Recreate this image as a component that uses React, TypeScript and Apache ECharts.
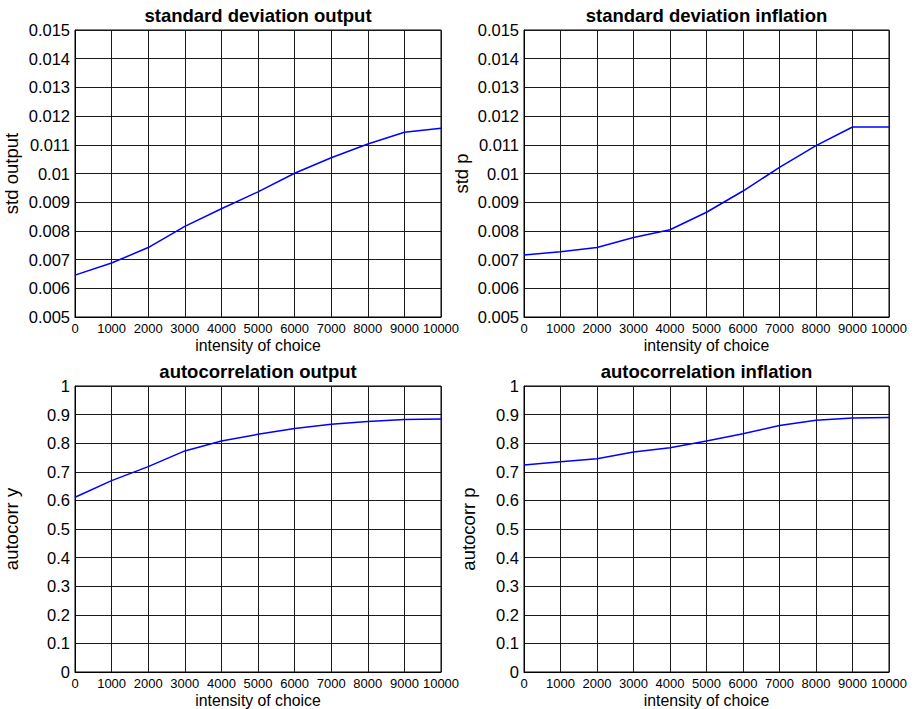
import React, { useEffect, useRef } from "react";
import * as echarts from "echarts";

// Intensity of choice (x values shared by all four panels)
const intensity = [0, 1000, 2000, 3000, 4000, 5000, 6000, 7000, 8000, 9000, 10000];

// Standard deviation of output
const stdOutput = [0.00646, 0.00688, 0.00742, 0.00816, 0.00877, 0.00936, 0.01001, 0.01055, 0.01103, 0.01144, 0.01158];
// Standard deviation of inflation
const stdInflation = [0.00716, 0.00727, 0.00742, 0.00777, 0.00804, 0.00865, 0.00939, 0.01021, 0.01097, 0.01162, 0.01162];
// First-order autocorrelation of output
const acOutput = [0.611, 0.669, 0.718, 0.773, 0.808, 0.831, 0.851, 0.866, 0.876, 0.883, 0.885];
// First-order autocorrelation of inflation
const acInflation = [0.724, 0.735, 0.746, 0.769, 0.784, 0.808, 0.833, 0.862, 0.880, 0.888, 0.890];

const titles = [
  "standard deviation output",
  "standard deviation inflation",
  "autocorrelation output",
  "autocorrelation inflation",
];
const yNames = ["std output", "std p", "autocorr y", "autocorr p"];
const xName = "intensity of choice";

const FONT = "'Liberation Sans', Arial, Helvetica, sans-serif";

export default function App() {
  const ref = useRef<HTMLDivElement>(null);

  useEffect(() => {
    if (!ref.current) return;
    const chart = echarts.init(ref.current, null, { renderer: "svg" });

    const grids = [
      { left: 75, top: 30, width: 366, height: 287 },
      { left: 524, top: 30, width: 365, height: 287 },
      { left: 75, top: 386, width: 366, height: 288 },
      { left: 524, top: 386, width: 365, height: 288 },
    ];
    const yRanges = [
      { min: 0.005, max: 0.015, interval: 0.001 },
      { min: 0.005, max: 0.015, interval: 0.001 },
      { min: 0, max: 1, interval: 0.1 },
      { min: 0, max: 1, interval: 0.1 },
    ];
    const yNameGaps = [54, 53, 54, 46];
    const dataSets = [stdOutput, stdInflation, acOutput, acInflation];

    const lineStyle = { color: "#1a1a1a", width: 1 };

    const option: any = {
      animation: false,
      backgroundColor: "#ffffff",
      textStyle: { fontFamily: FONT },
      title: grids.map((g, i) => ({
        text: titles[i],
        left: g.left + g.width / 2,
        top: g.top - 24,
        textAlign: "center",
        padding: 0,
        textStyle: {
          fontFamily: FONT,
          fontSize: 18.5,
          fontWeight: "bold",
          color: "#000",
        },
      })),
      grid: grids.map((g) => ({
        ...g,
        show: true,
        borderColor: "#000",
        borderWidth: 1,
        backgroundColor: "#fff",
        containLabel: false,
      })),
      xAxis: grids.map((_, i) => ({
        type: "value",
        gridIndex: i,
        min: 0,
        max: 10000,
        interval: 1000,
        name: xName,
        nameLocation: "middle",
        nameGap: 20,
        nameTextStyle: { fontFamily: FONT, fontSize: 15.8, color: "#000" },
        axisLine: { show: true, lineStyle: { color: "#000", width: 1 } },
        axisTick: { show: false },
        axisLabel: {
          fontFamily: FONT,
          fontSize: 13,
          color: "#000",
          margin: 5,
          showMinLabel: true,
          showMaxLabel: true,
          formatter: (v: number) => String(Math.round(v)),
        },
        splitLine: { show: true, lineStyle },
      })),
      yAxis: grids.map((_, i) => ({
        type: "value",
        gridIndex: i,
        min: yRanges[i].min,
        max: yRanges[i].max,
        interval: yRanges[i].interval,
        name: yNames[i],
        nameLocation: "middle",
        nameGap: yNameGaps[i],
        nameTextStyle: { fontFamily: FONT, fontSize: 18.5, color: "#000" },
        axisLine: { show: true, lineStyle: { color: "#000", width: 1 } },
        axisTick: { show: false },
        axisLabel: {
          fontFamily: FONT,
          fontSize: 16.5,
          color: "#000",
          margin: 5,
          showMinLabel: true,
          showMaxLabel: true,
          formatter: (v: number) => {
            const r = Math.round(v * 1e6) / 1e6;
            return String(r);
          },
        },
        splitLine: { show: true, lineStyle },
      })),
      series: dataSets.map((vals, i) => ({
        type: "line",
        xAxisIndex: i,
        yAxisIndex: i,
        data: intensity.map((x, k) => [x, vals[k]]),
        showSymbol: false,
        symbol: "none",
        smooth: false,
        lineStyle: { color: "#0000ff", width: 1.5 },
        z: 5,
      })),
    };

    chart.setOption(option);
    return () => chart.dispose();
  }, []);

  return (
    <div
      ref={ref}
      style={{ position: "fixed", left: 0, top: 0, width: 914, height: 709, background: "#fff" }}
    />
  );
}
